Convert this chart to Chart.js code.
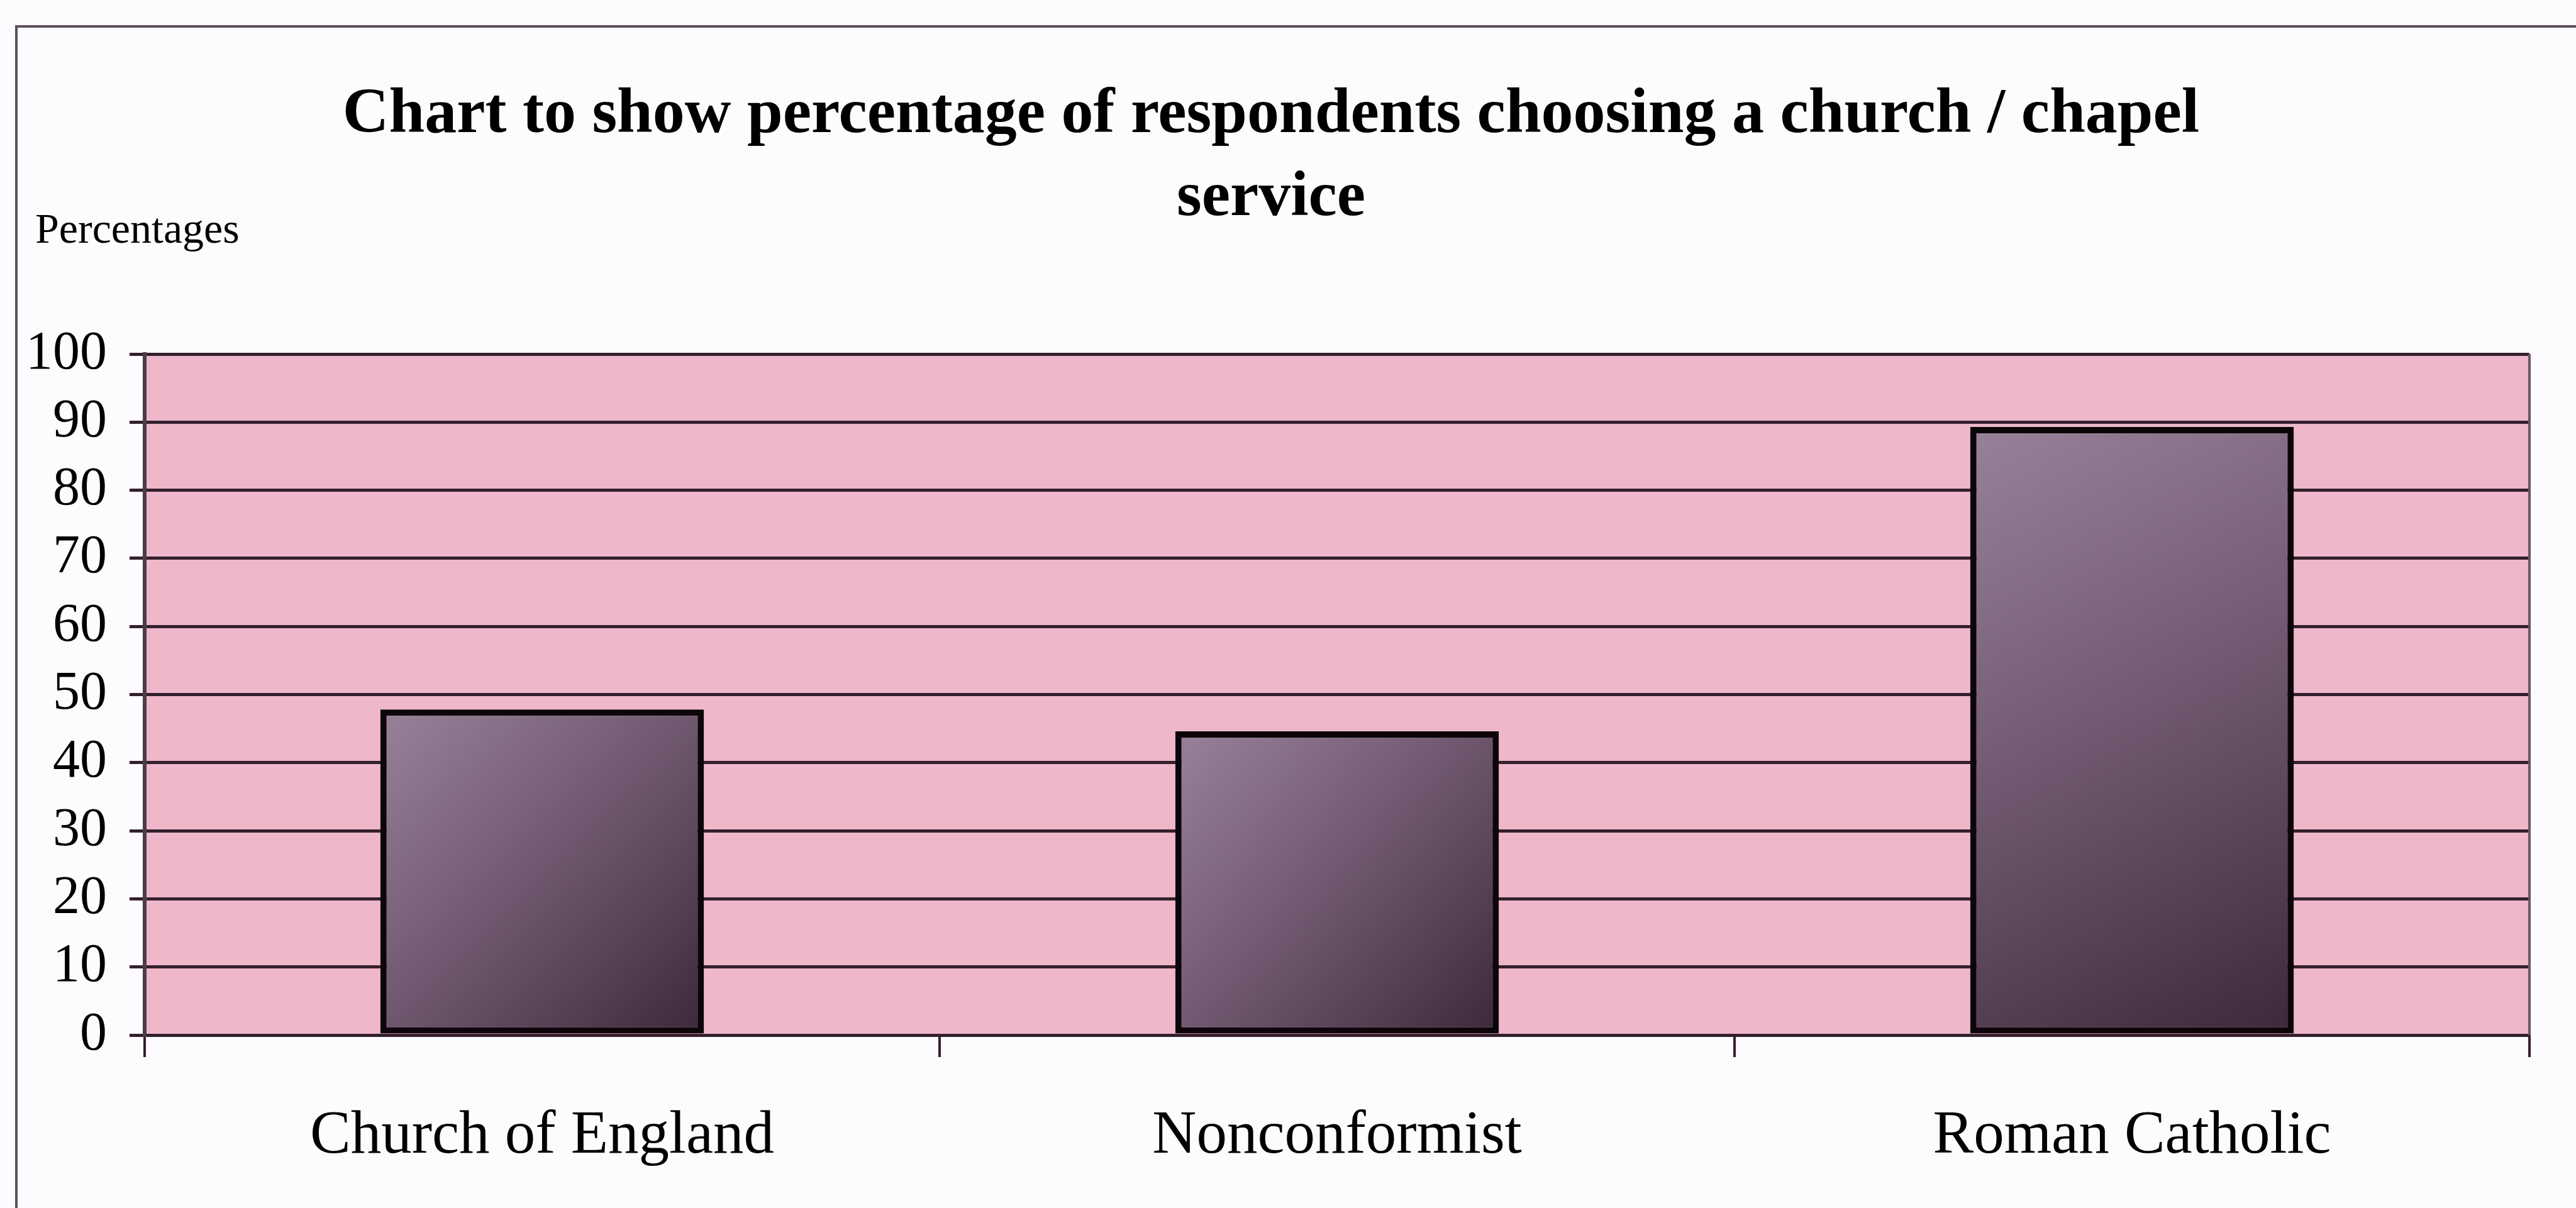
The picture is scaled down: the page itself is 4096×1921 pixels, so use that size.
<!DOCTYPE html>
<html>
<head>
<meta charset="utf-8">
<script src="https://cdn.jsdelivr.net/npm/chart.js@4.4.1/dist/chart.umd.min.js"></script>
<style>
  html, body { margin: 0; padding: 0; background: #fcfcfe; }
  #wrap { width: 4096px; height: 1921px; }
</style>
</head>
<body>
<div id="wrap"><canvas id="myChart" width="4096" height="1921"></canvas></div>
<script>
const categories = ['Church of England', 'Nonconformist', 'Roman Catholic'];
const percentages = [47.8, 44.6, 89.3];
const titleLines = ['Chart to show percentage of respondents choosing a church / chapel', 'service'];
const axisLabel = 'Percentages';

const barPct = 0.407;
const serif = "'Liberation Serif', 'Times New Roman', serif";
const lineDark = '#34202d';

// diagonal shading on each bar, light top-left to dark bottom-right
function barFill(c) {
  const chart = c.chart;
  if (!chart.chartArea || c.type !== 'data') return '#6a5468';
  const x = chart.scales.x, y = chart.scales.y;
  const cx = x.getPixelForValue(c.dataIndex);
  const half = x.width / categories.length * barPct / 2;
  const top = y.getPixelForValue(c.raw);
  const bottom = y.getPixelForValue(0);
  const g = chart.ctx.createLinearGradient(cx - half, top, cx + half, bottom);
  g.addColorStop(0, '#98829a');
  g.addColorStop(0.45, '#735c73');
  g.addColorStop(1, '#3c283a');
  return g;
}

const decor = {
  id: 'decor',
  beforeDraw(chart) {
    const ctx = chart.ctx, a = chart.chartArea;
    ctx.save();
    // outer frame
    ctx.strokeStyle = '#5e4e5e';
    ctx.lineWidth = 4;
    ctx.beginPath();
    ctx.moveTo(26, chart.height);
    ctx.lineTo(26, 42);
    ctx.lineTo(chart.width, 42);
    ctx.stroke();
    // plot background
    ctx.fillStyle = '#eeb7ca';
    ctx.fillRect(a.left, a.top, a.right - a.left, a.bottom - a.top);
    ctx.restore();
  },
  beforeDatasetsDraw(chart) {
    const ctx = chart.ctx, a = chart.chartArea;
    ctx.save();
    ctx.strokeStyle = '#6a5668';
    ctx.lineWidth = 4;
    ctx.beginPath();
    ctx.moveTo(a.right, a.top);
    ctx.lineTo(a.right, a.bottom);
    ctx.stroke();
    ctx.restore();
  },
  afterDraw(chart) {
    const ctx = chart.ctx;
    ctx.save();
    ctx.fillStyle = '#000';
    ctx.font = '68px ' + serif;
    ctx.textBaseline = 'alphabetic';
    ctx.fillText(axisLabel, 56, 386);
    ctx.restore();
  }
};

const config = {
  type: 'bar',
  data: {
    labels: categories,
    datasets: [{
      data: percentages,
      backgroundColor: barFill,
      borderColor: '#0c060a',
      borderWidth: 10,
      borderSkipped: false,
      barPercentage: barPct,
      categoryPercentage: 1
    }]
  },
  options: {
    responsive: false,
    animation: false,
    layout: { padding: { top: 40, left: 20, right: 74, bottom: 0 } },
    plugins: {
      legend: { display: false },
      tooltip: { enabled: false },
      title: {
        display: true,
        text: titleLines,
        color: '#000',
        font: { family: serif, size: 102, weight: 'bold', lineHeight: '132px' },
        padding: { top: 78, bottom: 181 }
      }
    },
    scales: {
      x: {
        afterFit: (s) => { s.height = 275; },
        grid: {
          display: true,
          drawOnChartArea: false,
          drawTicks: true,
          tickLength: 35,
          color: lineDark,
          lineWidth: 4
        },
        border: { display: true, color: lineDark, width: 5 },
        ticks: {
          color: '#000',
          font: { family: serif, size: 97 },
          padding: 68,
          maxRotation: 0,
          autoSkip: false
        }
      },
      y: {
        min: 0,
        max: 100,
        afterFit: (s) => { s.width = 210; },
        grid: {
          color: lineDark,
          lineWidth: 5,
          tickLength: 24,
          drawTicks: true
        },
        border: { display: true, color: '#4d3a4b', width: 6 },
        ticks: {
          stepSize: 10,
          color: '#000',
          font: { family: serif, size: 86 },
          padding: 36
        }
      }
    }
  },
  plugins: [decor]
};

const chart = new Chart(document.getElementById('myChart'), config);
</script>
</body>
</html>
